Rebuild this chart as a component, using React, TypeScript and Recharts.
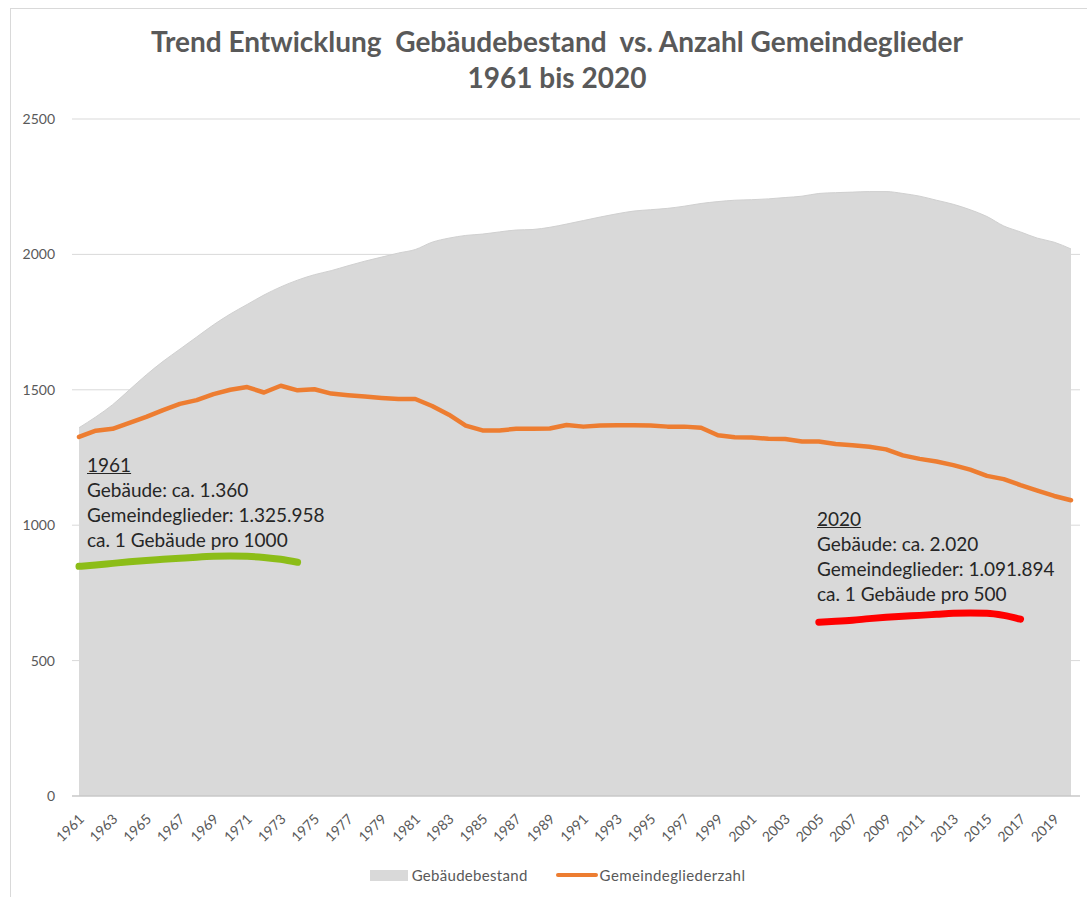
import React from 'react';
import { ComposedChart, Area, Line, XAxis, YAxis, CartesianGrid, Legend } from 'recharts';

const years: number[] = [
  1961, 1962, 1963, 1964, 1965, 1966, 1967, 1968, 1969, 1970,
  1971, 1972, 1973, 1974, 1975, 1976, 1977, 1978, 1979, 1980,
  1981, 1982, 1983, 1984, 1985, 1986, 1987, 1988, 1989, 1990,
  1991, 1992, 1993, 1994, 1995, 1996, 1997, 1998, 1999, 2000,
  2001, 2002, 2003, 2004, 2005, 2006, 2007, 2008, 2009, 2010,
  2011, 2012, 2013, 2014, 2015, 2016, 2017, 2018, 2019, 2020,
];

const gebaeudebestand: number[] = [
  1360, 1400, 1445, 1500, 1555, 1605, 1650, 1695, 1740, 1780,
  1815, 1850, 1880, 1905, 1925, 1940, 1958, 1975, 1990, 2005,
  2018, 2045, 2060, 2070, 2075, 2083, 2090, 2092, 2100, 2112,
  2125, 2138, 2150, 2160, 2165, 2170, 2178, 2188, 2195, 2200,
  2202, 2205, 2210, 2215, 2225, 2228, 2230, 2232, 2232, 2225,
  2215, 2200, 2185, 2165, 2140, 2105, 2083, 2060, 2045, 2020,
];

const gemeindeglieder: number[] = [
  1326, 1349, 1356, 1378, 1400, 1425, 1448, 1462, 1484, 1500,
  1510, 1490, 1515, 1498, 1502, 1486, 1480, 1475, 1470, 1466,
  1466, 1440, 1408, 1368, 1350, 1350, 1356, 1356, 1357, 1370,
  1364, 1368, 1369, 1369, 1368, 1364, 1364, 1360, 1332, 1325,
  1324, 1319, 1318, 1309, 1309, 1300, 1295, 1290, 1280, 1258,
  1245, 1235, 1222, 1205, 1182, 1170, 1148, 1128, 1108, 1092,
];

// hand-drawn highlight strokes under the annotations (value space)
const greenMarkYears: number[] = [1961, 1962, 1963, 1964, 1965, 1966, 1967, 1968, 1969, 1970, 1971, 1972, 1973, 1974];
const greenMarkValues: number[] = [848, 853, 859, 865, 870, 874, 878, 882, 885, 886, 885, 881, 874, 863];
const redMarkYears: number[] = [2005, 2006, 2007, 2008, 2009, 2010, 2011, 2012, 2013, 2014, 2015, 2016, 2017];
const redMarkValues: number[] = [642, 645, 649, 655, 660, 664, 667, 671, 675, 676, 675, 667, 653];

const yTicks: number[] = [0, 500, 1000, 1500, 2000, 2500];

const titleLines: string[] = ['Trend Entwicklung  Gebäudebestand  vs. Anzahl Gemeindeglieder', '1961 bis 2020'];
const note1961: string[] = ['1961', 'Gebäude: ca. 1.360', 'Gemeindeglieder: 1.325.958', 'ca. 1 Gebäude pro 1000'];
const note2020: string[] = ['2020', 'Gebäude: ca. 2.020', 'Gemeindeglieder: 1.091.894', 'ca. 1 Gebäude pro 500'];

const data = years.map((year, i) => {
  const gi = greenMarkYears.indexOf(year);
  const ri = redMarkYears.indexOf(year);
  return {
    year,
    gebaeude: gebaeudebestand[i],
    glieder: gemeindeglieder[i],
    green: gi >= 0 ? greenMarkValues[gi] : null,
    red: ri >= 0 ? redMarkValues[ri] : null,
  };
});

const FONT = 'Lato, "Open Sans", "DejaVu Sans", sans-serif';
const GREY_TEXT = '#595959';

const XTick = (props: any) => {
  const { x, y, payload } = props;
  const tx = x + 2;
  const ty = y + 12;
  return (
    <text
      x={tx}
      y={ty}
      transform={`rotate(-45, ${tx}, ${ty})`}
      textAnchor="end"
      dominantBaseline="central"
      fontSize={14}
      fontFamily={FONT}
      fill={GREY_TEXT}
    >
      {payload.value}
    </text>
  );
};

const LegendContent = () => (
  <div style={{ display: 'flex', justifyContent: 'center', alignItems: 'center', fontFamily: FONT, fontSize: 15, color: GREY_TEXT, height: 30, paddingLeft: 35 }}>
    <span style={{ display: 'inline-block', width: 38, height: 11, background: '#d9d9d9', marginRight: 4 }} />
    <span style={{ marginRight: 28, letterSpacing: 0.3 }}>Gebäudebestand</span>
    <span style={{ display: 'inline-block', width: 42, height: 4, borderRadius: 2, background: '#ed7d31', marginRight: 2 }} />
    <span style={{ letterSpacing: 0.4 }}>Gemeindegliederzahl</span>
  </div>
);

const Note = ({ lines, left, top }: { lines: string[]; left: number; top: number }) => (
  <div style={{ position: 'absolute', left, top, fontFamily: FONT, fontSize: 19, lineHeight: '25px', color: '#262626', whiteSpace: 'nowrap' }}>
    {lines.map((l, i) => (
      <div key={i} style={{ textDecoration: i === 0 ? 'underline' : 'none' }}>{l}</div>
    ))}
  </div>
);

export default function App() {
  return (
    <div style={{ position: 'absolute', left: 0, top: 0, width: 1087, height: 897, background: '#fff', overflow: 'hidden' }}>
      <div style={{ position: 'absolute', left: 10, top: 8, width: 1100, height: 900, borderLeft: '1px solid #d9d9d9', borderTop: '1px solid #d9d9d9' }} />
      <div style={{ position: 'absolute', left: 0, top: 23, width: 1114, textAlign: 'center', fontFamily: FONT, fontWeight: 'bold', fontSize: 28, lineHeight: '36px', color: GREY_TEXT, whiteSpace: 'pre' }}>
        {titleLines.map((t, i) => (
          <div key={i}>{t}</div>
        ))}
      </div>
      <div style={{ position: 'absolute', left: 0, top: 0 }}>
        <ComposedChart
          width={1087}
          height={897}
          data={data}
          margin={{ top: 119, right: 7, bottom: 7, left: 0 }}
        >
          <CartesianGrid vertical={false} stroke="#d9d9d9" strokeWidth={1} />
          <XAxis
            dataKey="year"
            interval={1}
            tick={<XTick />}
            tickLine={false}
            axisLine={{ stroke: '#bfbfbf' }}
            height={64}
            padding={{ left: 7, right: 9 }}
          />
          <YAxis
            domain={[0, 2500]}
            ticks={yTicks}
            width={72}
            tickLine={false}
            axisLine={false}
            tickMargin={11}
            tick={{ fontSize: 14, fontFamily: FONT, fill: GREY_TEXT }}
          />
          <Area
            type="monotone"
            dataKey="gebaeude"
            name="Gebäudebestand"
            fill="#d9d9d9"
            fillOpacity={1}
            stroke="#d0d0d0"
            strokeWidth={1}
            isAnimationActive={false}
            dot={false}
            activeDot={false}
          />
          <Line
            type="linear"
            dataKey="glieder"
            name="Gemeindegliederzahl"
            stroke="#ed7d31"
            strokeWidth={4.5}
            strokeLinecap="round"
            strokeLinejoin="round"
            dot={false}
            activeDot={false}
            isAnimationActive={false}
          />
          <Line
            type="monotone"
            dataKey="green"
            stroke="#8cbd18"
            strokeWidth={7}
            strokeLinecap="round"
            dot={false}
            activeDot={false}
            legendType="none"
            isAnimationActive={false}
          />
          <Line
            type="monotone"
            dataKey="red"
            stroke="#ff0000"
            strokeWidth={7}
            strokeLinecap="round"
            dot={false}
            activeDot={false}
            legendType="none"
            isAnimationActive={false}
          />
          <Legend verticalAlign="bottom" height={30} content={<LegendContent />} />
        </ComposedChart>
      </div>
      <Note lines={note1961} left={87} top={452} />
      <Note lines={note2020} left={817} top={506} />
    </div>
  );
}
